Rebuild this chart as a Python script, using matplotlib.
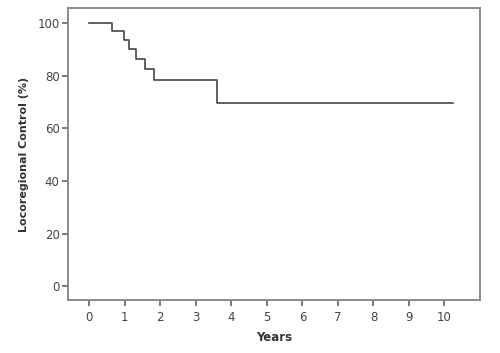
import numpy as np
import matplotlib.pyplot as plt

# Kaplan-Meier step values
years = [0, 0.65, 0.98, 1.13, 1.32, 1.57, 1.83, 3.59, 10.24]
control = [100, 97.0, 93.6, 90.2, 86.4, 82.4, 78.3, 69.6, 69.6]
xticks = list(range(0, 11))
yticks = [0, 20, 40, 60, 80, 100]

fig = plt.figure(figsize=(5, 3.53), dpi=100)
ax = fig.add_axes([0.136, 0.150, 0.824, 0.827])

ax.step(years, control, where='post', color='#454545', linewidth=1.2)

ax.set_xlim(-0.6, 11.0)
ax.set_ylim(-5.3, 105.7)
ax.set_xticks(xticks)
ax.set_yticks(yticks)

for s in ax.spines.values():
    s.set_color('#8a8a8a')
    s.set_linewidth(1.4)
ax.tick_params(direction='out', length=4, width=1.1, color='#555555',
               labelsize=8.5, labelcolor='#444444', pad=2)
ax.tick_params(axis='x', pad=4)

ax.set_xlabel('Years', fontsize=8.5, fontweight='bold', color='#333333', labelpad=5)
ax.set_ylabel('Locoregional Control (%)', fontsize=8, fontweight='bold', color='#333333', labelpad=6)

fig.savefig('out.png', dpi=100)
